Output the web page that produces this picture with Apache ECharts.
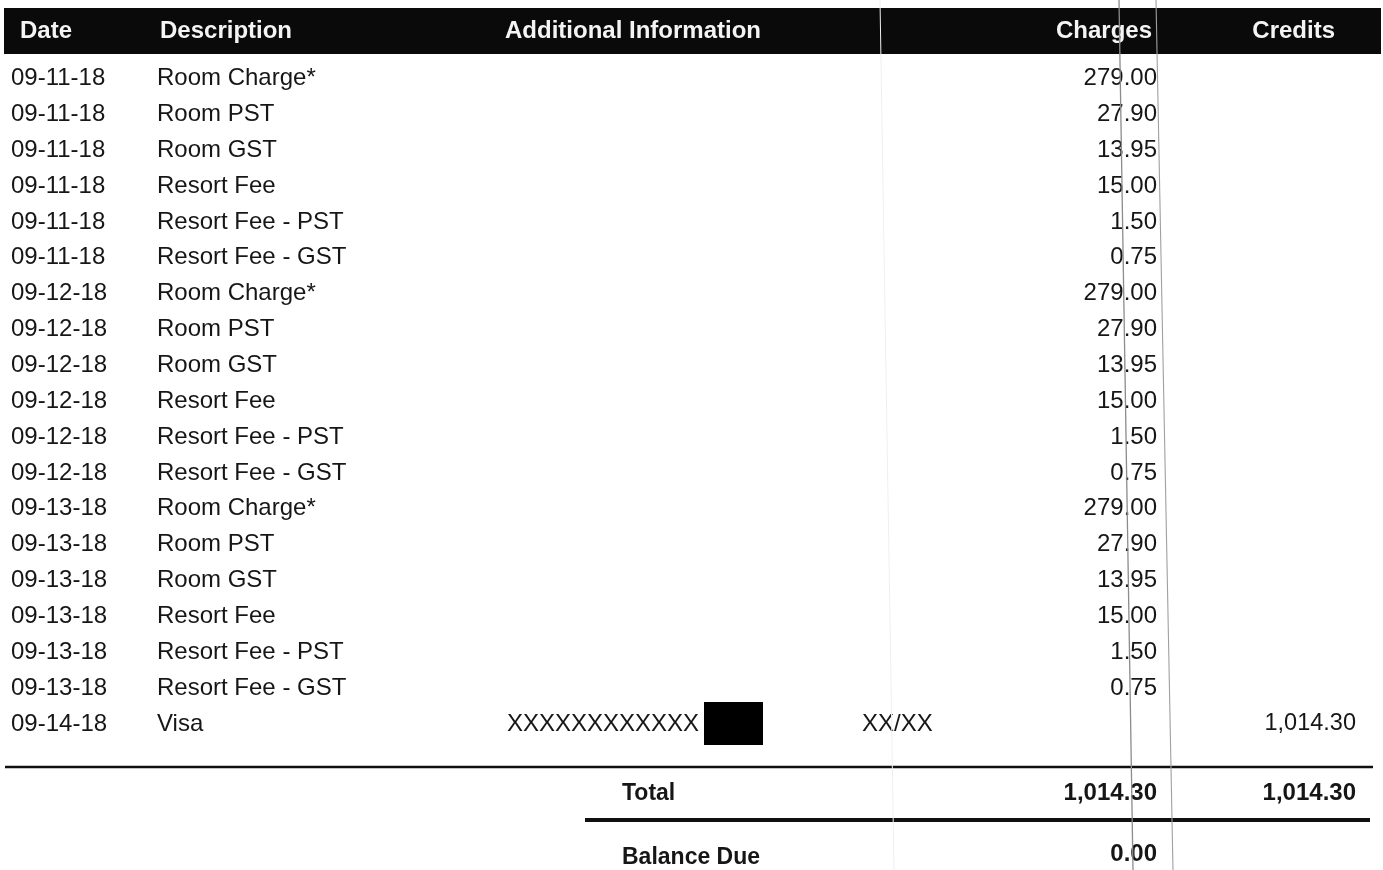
<!DOCTYPE html>
<html>
<head>
<meta charset="utf-8">
<title>Folio</title>
<script src="https://cdn.jsdelivr.net/npm/echarts@6/dist/echarts.min.js"></script>
<style>
  html, body { margin: 0; padding: 0; background: #fff; }
  #main { width: 1383px; height: 870px; }
</style>
</head>
<body>
<div id="main"></div>
<script>
// table contents
var headers = ['Date', 'Description', 'Additional Information', 'Charges', 'Credits'];
var dates = [
  '09-11-18', '09-11-18', '09-11-18', '09-11-18', '09-11-18', '09-11-18',
  '09-12-18', '09-12-18', '09-12-18', '09-12-18', '09-12-18', '09-12-18',
  '09-13-18', '09-13-18', '09-13-18', '09-13-18', '09-13-18', '09-13-18',
  '09-14-18'
];
var descriptions = [
  'Room Charge*', 'Room PST', 'Room GST', 'Resort Fee', 'Resort Fee - PST', 'Resort Fee - GST',
  'Room Charge*', 'Room PST', 'Room GST', 'Resort Fee', 'Resort Fee - PST', 'Resort Fee - GST',
  'Room Charge*', 'Room PST', 'Room GST', 'Resort Fee', 'Resort Fee - PST', 'Resort Fee - GST',
  'Visa'
];
var charges = [
  279.00, 27.90, 13.95, 15.00, 1.50, 0.75,
  279.00, 27.90, 13.95, 15.00, 1.50, 0.75,
  279.00, 27.90, 13.95, 15.00, 1.50, 0.75,
  null
];
var credits = [
  null, null, null, null, null, null,
  null, null, null, null, null, null,
  null, null, null, null, null, null,
  1014.30
];
var cardNumber = ['', '', '', '', '', '', '', '', '', '', '', '', '', '', '', '', '', '', 'XXXXXXXXXXXX'];
var cardExpiry = ['', '', '', '', '', '', '', '', '', '', '', '', '', '', '', '', '', '', 'XX/XX'];
var summaryLabels = ['Total', 'Balance Due'];
var summaryCharges = [1014.30, 0.00];
var summaryCredits = [1014.30, null];

// layout (axis units = page pixels)
var ROW_TOP = 78.5, ROW_STEP = 35.86;
var HEAD_Y = 31.5, HEAD_TOP = 8, HEAD_BOTTOM = 54;
var SUMMARY_Y = [793.5, 855];
var COL = { date: 11, desc: 157, info: 507, expiry: 862, charges: 1157, credits: 1356 };
var HEAD_COL = [20, 160, 505, 1152, 1335];
var HEAD_ALIGN = ['left', 'left', 'left', 'right', 'right'];
var FONT = '"Liberation Sans", Arial, sans-serif';
var INK = '#161616';

function money(v) {
  if (v === null || v === undefined) return '';
  return v.toLocaleString('en-US', { minimumFractionDigits: 2, maximumFractionDigits: 2 });
}

function txt(x, y, s, align, size, weight, color) {
  return {
    type: 'text', x: x, y: y,
    style: {
      text: s, fill: color || INK,
      font: (weight || 'normal') + ' ' + size + 'px ' + FONT,
      align: align, verticalAlign: 'middle'
    }
  };
}

var chart = echarts.init(document.getElementById('main'), null, { renderer: 'canvas' });

chart.setOption({
  backgroundColor: '#ffffff',
  animation: false,
  grid: { left: 0, right: 0, top: 0, bottom: 0 },
  xAxis: { type: 'value', min: 0, max: 1383, show: false },
  yAxis: { type: 'value', min: 0, max: 870, inverse: true, show: false },
  series: [
    {
      // header bar
      type: 'custom', name: 'header',
      data: [[0, HEAD_Y]],
      renderItem: function (params, api) {
        var tl = api.coord([4, HEAD_TOP]);
        var br = api.coord([1381, HEAD_BOTTOM]);
        var y = api.coord([0, api.value(1)])[1];
        var kids = [{
          type: 'rect',
          shape: { x: tl[0], y: tl[1], width: br[0] - tl[0], height: br[1] - tl[1] },
          style: { fill: '#0a0a0a' }
        }];
        headers.forEach(function (h, k) {
          kids.push(txt(api.coord([HEAD_COL[k], 0])[0], y, h, HEAD_ALIGN[k], 24, 'bold', '#f4f4f4'));
        });
        return { type: 'group', children: kids };
      }
    },
    {
      // line items
      type: 'custom', name: 'rows',
      data: dates.map(function (d, i) { return [i, ROW_TOP + i * ROW_STEP]; }),
      renderItem: function (params, api) {
        var i = api.value(0);
        var y = api.coord([0, api.value(1)])[1];
        var X = function (v) { return api.coord([v, 0])[0]; };
        var kids = [
          txt(X(COL.date), y, dates[i], 'left', 24),
          txt(X(COL.desc), y, descriptions[i], 'left', 24),
          txt(X(COL.charges), y, money(charges[i]), 'right', 24),
          txt(X(COL.credits), y, money(credits[i]), 'right', 23.5)
        ];
        if (cardNumber[i]) {
          kids.push(txt(X(COL.info), y, cardNumber[i], 'left', 24));
          var a = api.coord([704, api.value(1) - 22]);
          var b = api.coord([763, api.value(1) + 21]);
          kids.push({
            type: 'rect',
            shape: { x: a[0], y: a[1], width: b[0] - a[0], height: b[1] - a[1] },
            style: { fill: '#000' }
          });
        }
        if (cardExpiry[i]) kids.push(txt(X(COL.expiry), y, cardExpiry[i], 'left', 24));
        return { type: 'group', children: kids };
      }
    },
    {
      // totals
      type: 'custom', name: 'summary',
      data: summaryLabels.map(function (s, k) { return [k, SUMMARY_Y[k]]; }),
      renderItem: function (params, api) {
        var k = api.value(0);
        var y = api.coord([0, api.value(1)])[1];
        var X = function (v) { return api.coord([v, 0])[0]; };
        var kids = [
          txt(X(622), y + (k ? 3 : 0), summaryLabels[k], 'left', 23, 'bold'),
          txt(X(COL.charges), y - (k ? 1 : 0), money(summaryCharges[k]), 'right', 24, 'bold'),
          txt(X(COL.credits), y, money(summaryCredits[k]), 'right', 24, 'bold')
        ];
        return { type: 'group', children: kids };
      }
    },
    {
      // rules above and below total
      type: 'custom', name: 'rules',
      data: [[5, 1373, 767, 2.5], [585, 1370, 820, 4.2]],
      renderItem: function (params, api) {
        var a = api.coord([api.value(0), api.value(2)]);
        var b = api.coord([api.value(1), api.value(2)]);
        return {
          type: 'line',
          shape: { x1: a[0], y1: a[1], x2: b[0], y2: b[1] },
          style: { stroke: '#101010', lineWidth: api.value(3) }
        };
      }
    },
    {
      // scanner streaks
      type: 'custom', name: 'scan',
      z: 5,
      data: [[1119, 1133, '#8c8c8c', 1.3], [1156, 1173, '#a0a0a0', 1.1], [880, 894, '#efefef', 1]],
      renderItem: function (params, api) {
        var a = api.coord([api.value(0), 0]);
        var b = api.coord([api.value(1), 870]);
        return {
          type: 'line',
          shape: { x1: a[0], y1: a[1], x2: b[0], y2: b[1] },
          style: { stroke: api.value(2), lineWidth: api.value(3) }
        };
      }
    }
  ]
});
</script>
</body>
</html>
